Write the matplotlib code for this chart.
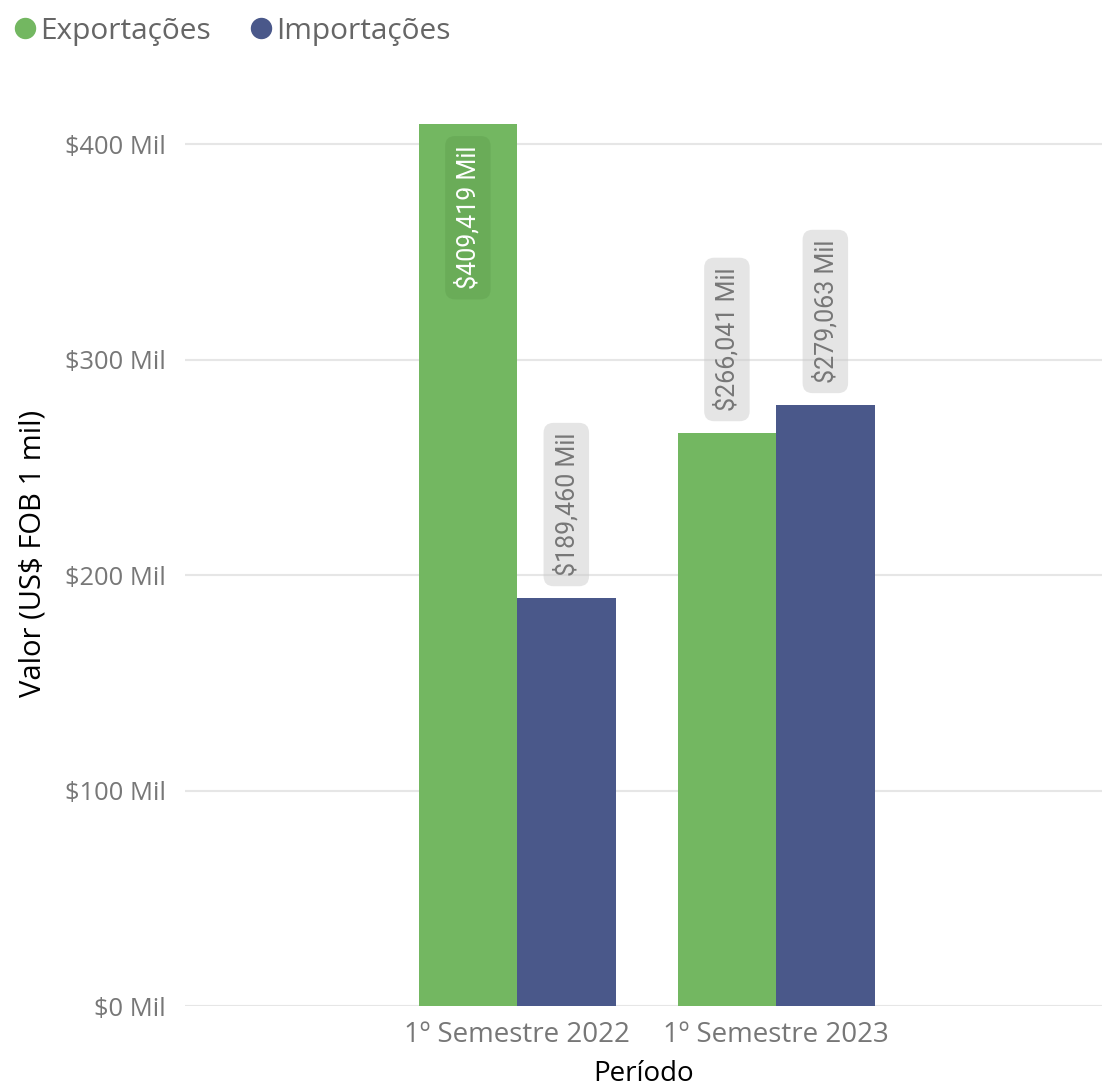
import matplotlib
matplotlib.use("Agg")
import matplotlib.pyplot as plt
from matplotlib.lines import Line2D
import numpy as np

plt.rcParams['font.family'] = ['Open Sans', 'DejaVu Sans']

periods = ["1º Semestre 2022", "1º Semestre 2023"]
series_names = ["Exportações", "Importações"]
exports = [409.419, 266.041]
imports = [189.460, 279.063]
yticks = [0, 100, 200, 300, 400]
ytick_labels = ["$0 Mil", "$100 Mil", "$200 Mil", "$300 Mil", "$400 Mil"]

GREEN = "#73B761"
BLUE = "#4A588A"

fig = plt.figure(figsize=(11.02, 10.92), dpi=100)
ax = fig.add_axes([185/1102, 1-1006/1092, 1-185/1102, (1006-101)/1092])

x = np.arange(len(periods))
w = 0.38
ax.bar(x - w/2, exports, w, color=GREEN, zorder=2)
ax.bar(x + w/2, imports, w, color=BLUE, zorder=2)

ax.set_xlim(-1.282, 2.258)
ax.set_ylim(0, 420)
ax.set_yticks(yticks)
ax.set_yticklabels(ytick_labels)
ax.set_xticks(x)
ax.set_xticklabels(periods)
ax.tick_params(axis='y', length=0, pad=14, labelsize=18.4, labelcolor='#777777')
ax.tick_params(axis='x', length=0, pad=11, labelsize=20, labelcolor='#777777')
for s in ax.spines.values():
    s.set_visible(False)
ax.grid(axis='y', color='#E6E6E6', lw=1.5, zorder=0)
ax.set_axisbelow(True)

ax.set_ylabel("Valor (US$ FOB 1 mil)", fontsize=21, color='black', labelpad=12)
ax.set_xlabel("Período", fontsize=20, color='black', labelpad=8)

label_font = ['Roboto', 'DejaVu Sans']

def fmt(v):
    return "$" + f"{v:.3f}".replace(".", ",") + " Mil"

vals = [(x - w/2, exports), (x + w/2, imports)]
for xs, vs in vals:
    for xi, v in zip(xs, vs):
        inside = v > 380
        if inside:
            ax.annotate(fmt(v), (xi, v), xytext=(0, -16), textcoords='offset points',
                        rotation=90, ha='center', va='top', fontsize=18, color='white',
                        family=label_font, zorder=5,
                        bbox=dict(boxstyle='round,pad=0.4,rounding_size=0.4',
                                  fc='#5a9a4a', ec='none', alpha=0.35))
        else:
            ax.annotate(fmt(v), (xi, v), xytext=(0, 15.5), textcoords='offset points',
                        rotation=90, ha='center', va='bottom', fontsize=18, color='#777777',
                        family=label_font, zorder=5,
                        bbox=dict(boxstyle='round,pad=0.4,rounding_size=0.4',
                                  fc=(0.78, 0.78, 0.78, 0.45), ec='none'))

handles = [Line2D([], [], ls='none', marker='o', markersize=14.4, color=GREEN),
           Line2D([], [], ls='none', marker='o', markersize=14.4, color=BLUE)]
fig.legend(handles, series_names, loc='upper left', bbox_to_anchor=(3/1102, 1 - 10/1092),
           ncol=2, frameon=False, fontsize=21.5, labelcolor='#666666',
           handletextpad=0.0, columnspacing=1.2, handlelength=1.0,
           borderpad=0.1, borderaxespad=0.13)

fig.savefig("out.png", dpi=100)
